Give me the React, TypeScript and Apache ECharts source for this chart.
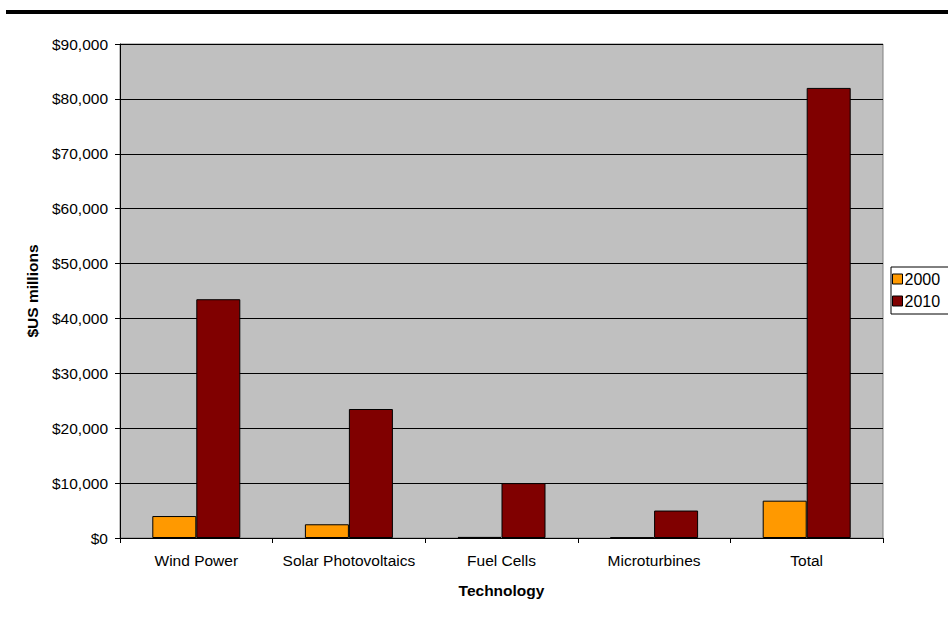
import React, { useEffect, useRef } from "react";
import * as echarts from "echarts";

const categories = ["Wind Power", "Solar Photovoltaics", "Fuel Cells", "Microturbines", "Total"];
const values2000 = [4000, 2500, 200, 100, 6800];
const values2010 = [43500, 23500, 10000, 5000, 82000];
const yTicks = { min: 0, max: 90000, interval: 10000 };

export default function App() {
  const ref = useRef<HTMLDivElement>(null);
  useEffect(() => {
    document.body.style.margin = "0";
    const chart = echarts.init(ref.current!, null, { renderer: "svg" });
    const font = "Liberation Sans, Arial, sans-serif";
    chart.setOption({
      animation: false,
      backgroundColor: "#ffffff",
      textStyle: { fontFamily: font },
      graphic: [
        { type: "rect", shape: { x: 6, y: 10, width: 942, height: 4 }, style: { fill: "#000" } },
      ],
      grid: {
        left: 120,
        right: 65,
        top: 44,
        bottom: 79,
        show: true,
        backgroundColor: "#C0C0C0",
        borderColor: "#808080",
        borderWidth: 1,
      },
      legend: {
        left: 891,
        top: 267,
        orient: "vertical",
        backgroundColor: "#ffffff",
        borderColor: "#000",
        borderWidth: 1,
        padding: [4, 20, 5, 1],
        itemWidth: 10,
        itemHeight: 10,
        itemGap: 6,
        icon: "rect",
        itemStyle: { borderColor: "#000", borderWidth: 1 },
        textStyle: { fontSize: 16, color: "#000", fontFamily: font, padding: [0, 0, 0, -3] },
        data: ["2000", "2010"],
      },
      xAxis: {
        type: "category",
        data: categories,
        name: "Technology",
        nameLocation: "middle",
        nameGap: 44,
        nameTextStyle: { fontWeight: "bold", fontSize: 15.5, color: "#000", fontFamily: font },
        axisLine: { lineStyle: { color: "#000", width: 1 } },
        axisTick: { show: true, length: 5, lineStyle: { color: "#000" }, alignWithLabel: false },
        axisLabel: { fontSize: 15.5, color: "#000", margin: 14, interval: 0, fontFamily: font },
      },
      yAxis: {
        type: "value",
        min: yTicks.min,
        max: yTicks.max,
        interval: yTicks.interval,
        name: "$US millions",
        nameLocation: "middle",
        nameGap: 80,
        nameTextStyle: { fontWeight: "bold", fontSize: 15.5, color: "#000", fontFamily: font },
        axisLine: { show: true, lineStyle: { color: "#000", width: 1 } },
        axisTick: { show: true, length: 5, lineStyle: { color: "#000" } },
        axisLabel: {
          fontSize: 15.5,
          color: "#000",
          margin: 12,
          fontFamily: font,
          formatter: (v: number) => "$" + v.toLocaleString("en-US"),
        },
        splitLine: { show: true, lineStyle: { color: "#000", width: 1 } },
      },
      series: [
        {
          name: "2000",
          type: "bar",
          data: values2000,
          barWidth: 44,
          barGap: "0%",
          itemStyle: { color: "#FF9900", borderColor: "#000", borderWidth: 1 },
        },
        {
          name: "2010",
          type: "bar",
          data: values2010,
          barWidth: 44,
          barGap: "0%",
          itemStyle: { color: "#800000", borderColor: "#000", borderWidth: 1 },
        },
      ],
    });
    return () => chart.dispose();
  }, []);
  return <div ref={ref} style={{ width: 948, height: 617 }} />;
}
